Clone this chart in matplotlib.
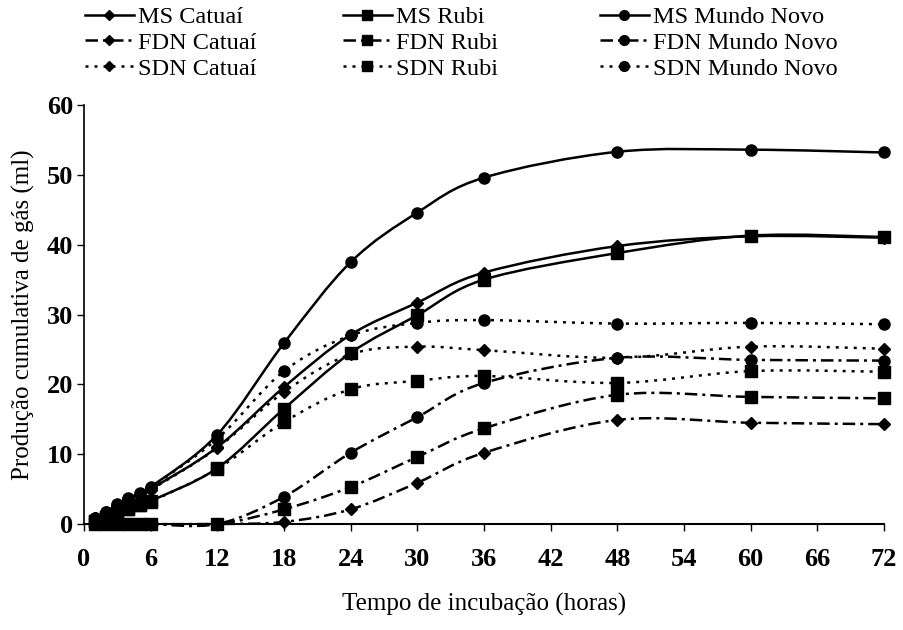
import numpy as np
import matplotlib
matplotlib.use('Agg')
import matplotlib.pyplot as plt
from matplotlib.path import Path
from matplotlib.patches import PathPatch
from matplotlib.lines import Line2D

plt.rcParams['font.family'] = ['Liberation Serif', 'DejaVu Serif']

# incubation times (hours)
hours = [1, 2, 3, 4, 5, 6, 12, 18, 24, 30, 36, 48, 60, 72]

# cumulative gas production (ml)
ms_catuai = [0.8, 1.6, 2.6, 3.5, 4.2, 5.0, 11.0, 19.6, 27.1, 31.7, 36.0, 39.8, 41.2, 41.0]
fdn_catuai = [0, 0, 0, 0, 0, 0, 0, 0.3, 2.1, 5.9, 10.2, 14.9, 14.5, 14.3]
sdn_catuai = [0.8, 1.6, 2.5, 3.4, 4.1, 4.9, 10.9, 18.9, 24.3, 25.4, 24.9, 23.8, 25.4, 25.1]

ms_rubi = [0.5, 1.0, 1.6, 2.2, 2.7, 3.3, 8.0, 16.5, 24.5, 29.9, 35.0, 38.8, 41.3, 41.1]
fdn_rubi = [0, 0, 0, 0, 0, 0, 0, 2.1, 5.3, 9.6, 13.7, 18.5, 18.2, 18.0]
sdn_rubi = [0.5, 1.0, 1.6, 2.2, 2.7, 3.2, 7.9, 14.6, 19.3, 20.5, 21.2, 20.2, 21.9, 21.8]

ms_mundo = [0.9, 1.7, 2.8, 3.7, 4.4, 5.3, 12.8, 25.9, 37.5, 44.6, 49.6, 53.3, 53.6, 53.2]
fdn_mundo = [0, 0, 0, 0, 0, 0, 0, 3.9, 10.2, 15.3, 20.2, 23.8, 23.5, 23.4]
sdn_mundo = [0.9, 1.7, 2.7, 3.6, 4.3, 5.2, 12.2, 21.9, 27.0, 28.8, 29.2, 28.7, 28.8, 28.6]

x_ticks = list(range(0, 73, 6))
y_ticks = list(range(0, 61, 10))


def smooth_path(x, y):
    # smoothed line like the spreadsheet "smooth line" option (bezier through points)
    pts = np.column_stack([x, y]).astype(float)
    n = len(pts)
    verts = [pts[0]]
    codes = [Path.MOVETO]
    for i in range(n - 1):
        p0 = pts[max(i - 1, 0)]
        p1 = pts[i]
        p2 = pts[i + 1]
        p3 = pts[min(i + 2, n - 1)]
        verts += [p1 + (p2 - p0) / 6, p2 - (p3 - p1) / 6, p2]
        codes += [Path.CURVE4] * 3
    return Path(verts, codes)


solid = '-'
dashdot = (0, (5, 2, 1.2, 2))
dotted = (0, (1.2, 2.4))
mk = {'D': 6, 's': 8, 'o': 8}

series = [
    ('MS Catuaí', ms_catuai, solid, 'D'),
    ('FDN Catuaí', fdn_catuai, dashdot, 'D'),
    ('SDN Catuaí', sdn_catuai, dotted, 'D'),
    ('MS Rubi', ms_rubi, solid, 's'),
    ('FDN Rubi', fdn_rubi, dashdot, 's'),
    ('SDN Rubi', sdn_rubi, dotted, 's'),
    ('MS Mundo Novo', ms_mundo, solid, 'o'),
    ('FDN Mundo Novo', fdn_mundo, dashdot, 'o'),
    ('SDN Mundo Novo', sdn_mundo, dotted, 'o'),
]

fig = plt.figure(figsize=(9.04, 6.3), dpi=100)
ax = fig.add_axes([84 / 904, 1 - 524 / 630, 800 / 904, 419 / 630])

handles = []
for name, vals, ls, m in series:
    lw = 1.8
    ax.add_patch(PathPatch(smooth_path(hours, vals), fill=False, edgecolor='black',
                           lw=lw, linestyle=ls, clip_on=False))
    ax.plot(hours, vals, linestyle='none', marker=m, ms=mk[m], color='black', clip_on=False)
    handles.append(Line2D([], [], color='black', lw=lw, linestyle=ls, marker=m, ms=mk[m] - 1))

ax.set_xlim(0, 72)
ax.set_ylim(0, 60)
ax.set_xticks(x_ticks)
ax.set_yticks(y_ticks)
ax.spines['top'].set_visible(False)
ax.spines['right'].set_visible(False)
ax.spines['left'].set_linewidth(1.2)
ax.spines['bottom'].set_linewidth(1.5)
ax.tick_params(axis='both', direction='out', labelsize=19, length=5, width=1)
ax.tick_params(axis='x', pad=12)
ax.tick_params(axis='y', pad=3)
for lab in ax.get_xticklabels() + ax.get_yticklabels():
    lab.set_fontweight('bold')
ax.set_xlabel('Tempo de incubação (horas)', fontsize=18, labelpad=16)
ax.set_ylabel('Produção cumulativa de gás (ml)', fontsize=18, labelpad=8)

# three legend columns above the plot
for col, xpix in enumerate([85, 343, 600]):
    fig.legend(handles[col * 3:col * 3 + 3], [s[0] for s in series[col * 3:col * 3 + 3]],
               loc='upper left', bbox_to_anchor=(xpix / 904, 1 - 6 / 630),
               frameon=False, fontsize=17.5, borderpad=0, handlelength=2.0,
               handletextpad=0.2, labelspacing=0.16, borderaxespad=0)

fig.savefig('out.png', dpi=100)
